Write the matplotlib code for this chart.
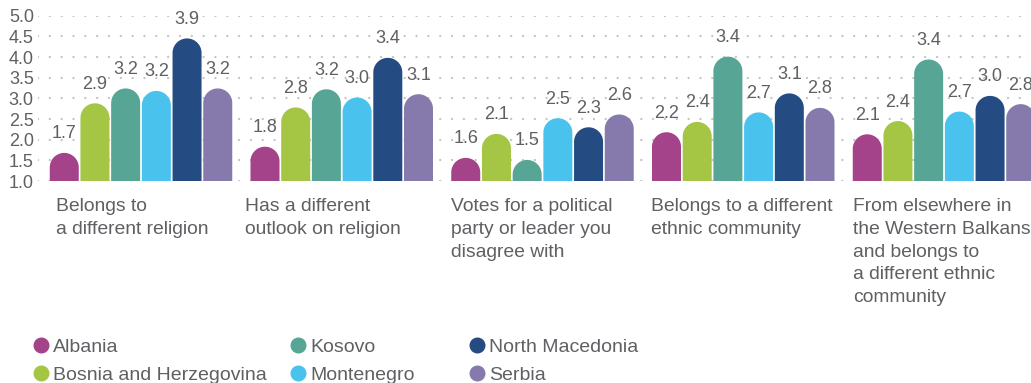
import numpy as np
import matplotlib
matplotlib.use("Agg")
import matplotlib.pyplot as plt
from matplotlib.patches import PathPatch
from matplotlib.path import Path
from matplotlib.lines import Line2D

# ---------------- data ----------------
categories = [
    "Belongs to\na different religion",
    "Has a different\noutlook on religion",
    "Votes for a political\nparty or leader you\ndisagree with",
    "Belongs to a different\nethnic community",
    "From elsewhere in\nthe Western Balkans\nand belongs to\na different ethnic\ncommunity",
]
countries = ["Albania", "Bosnia and Herzegovina", "Kosovo",
             "Montenegro", "North Macedonia", "Serbia"]

# bar heights as drawn
albania = [1.68, 1.83, 1.56, 2.18, 2.13]
bosnia = [2.88, 2.78, 2.14, 2.43, 2.45]
kosovo = [3.24, 3.22, 1.51, 4.01, 3.94]
montenegro = [3.18, 3.02, 2.52, 2.66, 2.68]
north_macedonia = [4.45, 3.98, 2.30, 3.12, 3.06]
serbia = [3.24, 3.10, 2.61, 2.77, 2.86]

# value labels as printed
labels_albania = ["1.7", "1.8", "1.6", "2.2", "2.1"]
labels_bosnia = ["2.9", "2.8", "2.1", "2.4", "2.4"]
labels_kosovo = ["3.2", "3.2", "1.5", "3.4", "3.4"]
labels_montenegro = ["3.2", "3.0", "2.5", "2.7", "2.7"]
labels_north_macedonia = ["3.9", "3.4", "2.3", "3.1", "3.0"]
labels_serbia = ["3.2", "3.1", "2.6", "2.8", "2.8"]

yticks = [1.0, 1.5, 2.0, 2.5, 3.0, 3.5, 4.0, 4.5, 5.0]
ytick_labels = ["1.0", "1.5", "2.0", "2.5", "3.0", "3.5", "4.0", "4.5", "5.0"]

series = [albania, bosnia, kosovo, montenegro, north_macedonia, serbia]
series_labels = [labels_albania, labels_bosnia, labels_kosovo,
                 labels_montenegro, labels_north_macedonia, labels_serbia]

# ---------------- style ----------------
colors = ["#A4428A", "#A4C644", "#57A595", "#4AC2EE", "#244B82", "#857AAB"]
text_color = "#5f6063"
grid_color = "#c4c4c4"
FONT = "Liberation Sans"
plt.rcParams["font.family"] = [FONT, "DejaVu Sans"]

W, H = 1031, 383
fig = plt.figure(figsize=(W / 100, H / 100), dpi=100)
ax_left, ax_right = 38, 1031
y_top_px, y_bot_px = 15.7, 181
ax = fig.add_axes([ax_left / W, (H - y_bot_px) / H,
                   (ax_right - ax_left) / W, (y_bot_px - y_top_px) / H])

group_px = 200.75
x0_px = 141.0
ax.set_xlim((ax_left - x0_px) / group_px, (ax_right - x0_px) / group_px)
ax.set_ylim(1.0, 5.0)

px_x = group_px
px_y = (y_bot_px - y_top_px) / 4.0
pitch = 30.7 / group_px
bw = 29.0 / group_px
rx = bw / 2
ry = (bw * px_x / 2) / px_y

for y in yticks:
    ax.axhline(y, color=grid_color, lw=1.7, ls=(0, (0.01, 5.0)),
               dash_capstyle="round", zorder=0)

theta = np.linspace(0, np.pi, 40)
for j, (vals, labs) in enumerate(zip(series, series_labels)):
    for i, (v, lab) in enumerate(zip(vals, labs)):
        xc = i + (j - 2.5) * pitch
        base = 1.0
        ytop = max(v - ry, base)
        verts = [(xc - rx, base), (xc + rx, base), (xc + rx, ytop)]
        verts += [(xc + rx * np.cos(t), ytop + ry * np.sin(t)) for t in theta]
        verts += [(xc - rx, base)]
        codes = [Path.MOVETO] + [Path.LINETO] * (len(verts) - 2) + [Path.CLOSEPOLY]
        ax.add_patch(PathPatch(Path(verts, codes), facecolor=colors[j],
                               edgecolor="none", zorder=2))
        ax.annotate(lab, (xc, v), xytext=(0, 10.4), textcoords="offset points",
                    ha="center", va="baseline", fontsize=13,
                    color=text_color, zorder=3, annotation_clip=False)

ax.set_yticks(yticks)
ax.set_yticklabels(ytick_labels, fontsize=13, color=text_color)
ax.tick_params(axis="y", length=0, pad=3)
ax.set_xticks([])
for s in ax.spines.values():
    s.set_visible(False)
ax.set_facecolor("none")

# category labels
label_offsets_px = [7, -5, 1, 0, 1]
for i, (cat, off) in enumerate(zip(categories, label_offsets_px)):
    gl = i - 3 * pitch
    ax.annotate(cat, (gl, 1.0), xytext=(off * 0.72, -12.5), textcoords="offset points",
                ha="left", va="top", fontsize=13.9, color=text_color,
                linespacing=1.43, annotation_clip=False)

# legend (manual, fixed column positions)
leg_cols_px = [41, 298, 477]
leg_rows_px = [345, 373]
for k, (name, col) in enumerate(zip(countries, colors)):
    cx = leg_cols_px[k // 2]
    cy = leg_rows_px[k % 2]
    fig.add_artist(Line2D([cx / W], [(H - cy) / H], marker="o", markersize=10.5,
                          color=col, linestyle="none", transform=fig.transFigure))
    fig.text((cx + 12) / W, (H - cy) / H, name, fontsize=14, color=text_color,
             ha="left", va="center_baseline")

fig.savefig("out.png", dpi=100)
